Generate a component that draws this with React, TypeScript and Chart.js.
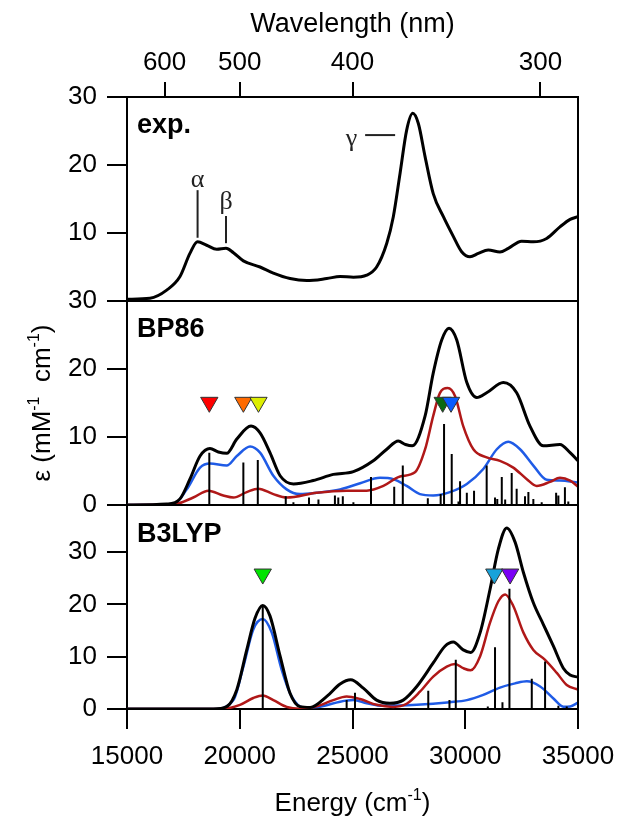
import React, { useEffect, useRef } from 'react';
import { Chart, registerables } from 'chart.js';

Chart.register(...registerables);

// ---- axes ----
const E_MIN = 15000;
const E_MAX = 35000;
const energyStep = 5000;
const wavelengthTicks = [600, 500, 400, 300];
const epsStep = 10;
const expMax = 30;
const bp86Max = 30;
const b3lypMax = 39;

// ---- experimental spectrum ----
const expE = [15000, 16020, 16760, 17350, 17790, 18130, 18530, 18980, 19390, 19720, 20160, 20900, 21490, 22230, 22970, 23860, 24450, 25040, 25630, 26070, 26520, 26810, 27110, 27400, 27670, 27920, 28220, 28580, 29030, 29470, 29840, 30210, 30580, 31020, 31540, 31910, 32500, 33020, 33610, 34200, 34650, 35000];
const expEps = [0.25, 0.4, 1.6, 3.6, 7.0, 8.7, 8.2, 7.6, 7.75, 7.1, 5.9, 5.0, 4.1, 3.3, 3.0, 3.3, 3.6, 3.5, 3.8, 5.0, 8.5, 12.4, 18.8, 25.1, 27.6, 26.1, 21.2, 15.8, 12.4, 9.5, 7.25, 6.5, 7.0, 7.5, 7.2, 7.75, 8.8, 8.7, 9.2, 10.9, 12.0, 12.4];

// band markers (energy, line bottom, line top) and gamma bar
const bandNames = ['α', 'β'];
const bandE = [18130, 19390];
const bandLow = [9.3, 8.5];
const bandHigh = [16.3, 12.5];
const gammaName = 'γ';
const gammaE = [25560, 26890];
const gammaEps = 24.4;

// ---- BP86 ----
const bpTotE = [15000, 16760, 17350, 17790, 18240, 18680, 19050, 19420, 19870, 20500, 20900, 21340, 21790, 22380, 23260, 24150, 25040, 25920, 26520, 27030, 27350, 27650, 28220, 28580, 28960, 29280, 29620, 30070, 30510, 30950, 31690, 32280, 32870, 33460, 34200, 34650, 35000];
const bpTotEps = [0, 0.15, 0.9, 3.8, 7.2, 8.3, 7.8, 7.6, 9.7, 11.6, 10.6, 7.7, 4.3, 3.1, 3.6, 4.5, 4.9, 6.5, 8.2, 9.4, 8.9, 8.7, 13.1, 19.4, 24.3, 26.0, 24.3, 18.0, 15.8, 16.5, 18.0, 16.5, 11.6, 8.7, 8.9, 7.7, 6.5];

const bpBlueE = [15000, 17060, 17650, 18240, 18680, 19420, 19870, 20460, 20900, 21490, 22080, 22670, 23410, 24450, 25340, 26220, 26810, 27400, 27990, 28580, 29320, 30070, 30800, 31400, 31910, 32430, 33020, 33610, 34200, 35000];
const bpBlueEps = [0, 0.1, 2.3, 5.5, 6.1, 5.8, 7.2, 8.6, 7.7, 4.3, 2.3, 1.6, 1.8, 2.3, 3.2, 4.0, 3.8, 2.8, 1.6, 1.4, 1.9, 3.1, 5.3, 8.2, 9.3, 8.2, 5.8, 3.7, 3.6, 3.3];

const bpRedE = [15000, 17060, 17940, 18610, 19270, 19720, 20310, 20820, 21490, 22080, 23410, 24740, 25630, 26370, 27110, 27770, 28220, 28580, 28880, 29220, 29550, 29910, 30360, 30950, 31540, 32130, 32730, 33170, 33760, 34200, 34650, 35000];
const bpRedEps = [0, 0.1, 1.1, 2.1, 1.4, 1.1, 1.9, 2.4, 1.6, 1.1, 1.8, 2.1, 2.1, 2.8, 4.2, 4.8, 8.2, 13.1, 16.5, 17.2, 16.0, 11.6, 8.2, 7.0, 6.5, 5.5, 3.8, 2.8, 3.4, 4.0, 3.6, 2.7];

const bpStickE = [18650, 20160, 20800, 22040, 22380, 23070, 23490, 24220, 24370, 24570, 25040, 25820, 26850, 27230, 28340, 28910, 29060, 29400, 29700, 29770, 30070, 30390, 30950, 31320, 31420, 31620, 31770, 32060, 32280, 32650, 32800, 33020, 33390, 34030, 34130, 34420, 34570];
const bpStickH = [7.7, 6.25, 6.6, 1.3, 0.4, 1.1, 0.8, 1.4, 1.1, 1.3, 0.4, 4.1, 2.7, 5.8, 1.0, 1.6, 11.9, 7.5, 0.5, 3.5, 1.8, 2.1, 5.8, 1.1, 0.9, 4.1, 0.8, 4.7, 2.4, 1.3, 1.9, 0.9, 0.4, 1.8, 1.4, 2.6, 0.5];

const bpMarkE = [18650, 20160, 20830, 29000, 29370];
const bpMarkEps = 15.1;
const bpMarkColors = ['#FF0000', '#FF6A00', '#DDEE00', '#0B6A12', '#0A5CFF'];

// ---- B3LYP ----
const b3TotE = [15000, 18830, 19420, 19870, 20310, 20680, 21020, 21340, 21790, 22230, 22670, 23120, 23860, 24450, 24920, 25480, 26070, 26660, 27250, 27850, 28580, 29100, 29470, 29910, 30240, 30660, 31100, 31470, 31840, 32210, 32580, 33020, 33460, 33910, 34350, 34650, 35000];
const b3TotEps = [0, 0, 0.45, 3.7, 11.3, 17.4, 19.8, 17.8, 10.1, 3.0, 0.45, 0.3, 2.4, 4.8, 5.6, 4.0, 1.7, 1.1, 1.7, 4.3, 8.8, 12.0, 12.8, 11.3, 10.8, 14.6, 22.9, 30.6, 34.6, 31.9, 26.1, 20.3, 16.2, 12.0, 7.8, 6.5, 6.1];

const b3BlueE = [15000, 18830, 19720, 20160, 20600, 21020, 21420, 21860, 22300, 22820, 23560, 24450, 25040, 25630, 26370, 27850, 29320, 30070, 30800, 31540, 32210, 32730, 33320, 33910, 34350, 34650, 35000];
const b3BlueEps = [0, 0, 1.7, 8.1, 15.2, 17.2, 14.6, 7.5, 2.4, 0.3, 0.45, 1.4, 1.7, 1.1, 0.6, 0.8, 1.3, 1.7, 2.7, 4.1, 4.9, 5.3, 4.3, 2.0, 0.45, 0.5, 1.2];

const b3RedE = [15000, 19200, 20010, 20600, 21020, 21490, 22080, 22670, 23410, 24150, 24740, 25340, 26070, 26810, 27400, 27990, 28580, 29180, 29550, 29910, 30240, 30660, 31100, 31470, 31770, 32130, 32580, 33020, 33540, 34060, 34500, 35000];
const b3RedEps = [0, 0, 0.8, 2.1, 2.6, 1.7, 0.4, 0.05, 0.5, 1.7, 2.4, 1.9, 0.8, 0.4, 1.0, 3.3, 6.2, 8.1, 8.6, 7.8, 7.4, 10.1, 16.5, 20.6, 21.9, 19.7, 14.6, 11.3, 9.4, 6.9, 4.6, 3.7];

const b3StickE = [21020, 24740, 25110, 28360, 29300, 29580, 31000, 31320, 31650, 31960, 32950, 33540, 34130, 34500];
const b3StickH = [19.8, 1.7, 3.1, 3.5, 1.7, 9.4, 0.5, 11.8, 1.3, 23.0, 5.8, 9.1, 0.6, 0.5];

const b3MarkE = [21020, 31290, 31990];
const b3MarkEps = 25.8;
const b3MarkColors = ['#00E400', '#18A2DA', '#7A00F5'];

const panelNames = ['exp.', 'BP86', 'B3LYP'];

// ---- helpers ----
const FONT = '"Liberation Sans", Arial, Helvetica, sans-serif';
const SERIF = '"Liberation Serif", "Times New Roman", serif';
const RED = '#B01818';
const BLUE = '#1F5BE6';

const pts = (xs: number[], ys: number[]) => xs.map((x, i) => ({ x, y: ys[i] }));
const stickPts = (xs: number[], hs: number[]) => {
  const out: any[] = [];
  xs.forEach((x, i) => {
    out.push({ x, y: 0 }, { x, y: hs[i] }, { x, y: null });
  });
  return out;
};

const curve = (data: any[], color: string, width: number, axis: string, order: number) => ({
  type: 'line',
  data,
  yAxisID: axis,
  borderColor: color,
  borderWidth: width,
  pointRadius: 0,
  fill: false,
  cubicInterpolationMode: 'monotone',
  order,
});

const sticks = (data: any[], axis: string) => ({
  type: 'line',
  data,
  yAxisID: axis,
  borderColor: '#000',
  borderWidth: 2,
  pointRadius: 0,
  tension: 0,
  spanGaps: false,
  order: 2,
});

const markers = (xs: number[], y: number, colors: string[], axis: string) => ({
  type: 'line',
  data: xs.map((x) => ({ x, y })),
  yAxisID: axis,
  showLine: false,
  pointStyle: 'triangle',
  pointRotation: 180,
  pointRadius: 10,
  pointBackgroundColor: colors,
  pointBorderColor: '#333',
  pointBorderWidth: 1,
  order: 0,
});

type Part = { t: string; sup?: boolean };
function drawRich(ctx: CanvasRenderingContext2D, parts: Part[], x: number, y: number, size: number, supSize: number, rise: number) {
  const main = `${size}px ${FONT}`;
  const sup = `${supSize}px ${FONT}`;
  let w = 0;
  parts.forEach((p) => {
    ctx.font = p.sup ? sup : main;
    w += ctx.measureText(p.t).width;
  });
  let cx = x - w / 2;
  ctx.textAlign = 'left';
  ctx.textBaseline = 'alphabetic';
  parts.forEach((p) => {
    ctx.font = p.sup ? sup : main;
    ctx.fillText(p.t, cx, p.sup ? y - rise : y);
    cx += ctx.measureText(p.t).width;
  });
}

const decor = {
  id: 'decor',
  afterDatasetsDraw(chart: any) {
    const ctx: CanvasRenderingContext2D = chart.ctx;
    const { left, right, top, bottom } = chart.chartArea;
    const xs = chart.scales.x;
    const yE = chart.scales.yExp;
    const yB = chart.scales.yBP;
    const y3 = chart.scales.yB3;
    ctx.save();
    ctx.strokeStyle = '#000';
    ctx.lineWidth = 2;
    ctx.beginPath();
    ctx.moveTo(right, top - 1);
    ctx.lineTo(right, bottom + 1);
    ctx.moveTo(left, yB.top);
    ctx.lineTo(right, yB.top);
    ctx.moveTo(left, y3.top);
    ctx.lineTo(right, y3.top);
    ctx.stroke();

    // panel names
    ctx.fillStyle = '#000';
    ctx.font = `bold 27px ${FONT}`;
    ctx.textAlign = 'left';
    ctx.textBaseline = 'alphabetic';
    ctx.fillText(panelNames[0], left + 10, yE.top + 36);
    ctx.fillText(panelNames[1], left + 10, yB.top + 36);
    ctx.fillText(panelNames[2], left + 10, y3.top + 37);

    // greek band labels
    ctx.fillStyle = '#222';
    ctx.font = `26px ${SERIF}`;
    ctx.textAlign = 'center';
    const lift = [3, 7];
    bandNames.forEach((n, i) => {
      ctx.fillText(n, xs.getPixelForValue(bandE[i]), yE.getPixelForValue(bandHigh[i]) - lift[i]);
    });
    ctx.textAlign = 'right';
    ctx.fillText(gammaName, xs.getPixelForValue(gammaE[0]) - 8, yE.getPixelForValue(gammaEps) + 11);

    // axis titles with superscripts
    ctx.fillStyle = '#000';
    drawRich(ctx, [{ t: 'Energy (cm' }, { t: '-1', sup: true }, { t: ')' }], (left + right) / 2, 811, 26, 16, 11);
    ctx.translate(50, (yB.top + yB.bottom) / 2);
    ctx.rotate(-Math.PI / 2);
    drawRich(ctx, [{ t: 'ε (mM' }, { t: '-1', sup: true }, { t: '  cm' }, { t: '-1', sup: true }, { t: ')' }], 0, 0, 26, 16, 11);
    ctx.restore();
  },
};

const yAxis = (max: number, weight: number, hideZero: boolean) => ({
  type: 'linear',
  position: 'left',
  stack: 'panels',
  stackWeight: 1,
  weight,
  min: 0,
  max,
  afterFit: (s: any) => {
    s.width = 127;
    s.paddingTop = 0;
    s.paddingBottom = 0;
  },
  ticks: {
    stepSize: epsStep,
    includeBounds: false,
    padding: 10,
    color: '#000',
    font: { family: FONT, size: 26 },
    callback: (v: number) => (hideZero && v === 0 ? '' : String(v)),
  },
  grid: { drawOnChartArea: false, tickLength: 20, color: '#000', lineWidth: 2 },
  border: { display: true, color: '#000', width: 2 },
});

export default function App() {
  const ref = useRef<HTMLCanvasElement | null>(null);
  useEffect(() => {
    if (!ref.current) return;
    const chart = new Chart(ref.current, {
      type: 'line',
      data: {
        datasets: [
          // experimental
          curve(pts(expE, expEps), '#000', 3, 'yExp', 1),
          ...bandE.map((e, i) => ({
            type: 'line',
            data: [{ x: e, y: bandLow[i] }, { x: e, y: bandHigh[i] }],
            yAxisID: 'yExp',
            borderColor: '#222',
            borderWidth: 2,
            pointRadius: 0,
            order: 1,
          })),
          {
            type: 'line',
            data: gammaE.map((e) => ({ x: e, y: gammaEps })),
            yAxisID: 'yExp',
            borderColor: '#222',
            borderWidth: 2,
            pointRadius: 0,
            order: 1,
          },
          // BP86
          markers(bpMarkE, bpMarkEps, bpMarkColors, 'yBP'),
          curve(pts(bpTotE, bpTotEps), '#000', 3, 'yBP', 1),
          sticks(stickPts(bpStickE, bpStickH), 'yBP'),
          curve(pts(bpRedE, bpRedEps), RED, 2.5, 'yBP', 3),
          curve(pts(bpBlueE, bpBlueEps), BLUE, 2.5, 'yBP', 4),
          // B3LYP
          markers(b3MarkE, b3MarkEps, b3MarkColors, 'yB3'),
          curve(pts(b3TotE, b3TotEps), '#000', 3, 'yB3', 1),
          sticks(stickPts(b3StickE, b3StickH), 'yB3'),
          curve(pts(b3RedE, b3RedEps), RED, 2.5, 'yB3', 3),
          curve(pts(b3BlueE, b3BlueEps), BLUE, 2.5, 'yB3', 4),
        ] as any,
      },
      options: {
        responsive: false,
        animation: false,
        events: [],
        layout: { padding: { left: 0, top: 0, right: 41, bottom: 0 } },
        plugins: { legend: { display: false }, tooltip: { enabled: false }, title: { display: false } },
        scales: {
          x: {
            type: 'linear',
            position: 'bottom',
            min: E_MIN,
            max: E_MAX,
            afterFit: (s: any) => {
              s.height = 112;
              s.paddingLeft = 0;
              s.paddingRight = 0;
            },
            ticks: {
              stepSize: energyStep,
              padding: 12,
              maxRotation: 0,
              color: '#000',
              font: { family: FONT, size: 26 },
              callback: (v: number) => String(v),
            },
            grid: { drawOnChartArea: false, tickLength: 20, color: '#000', lineWidth: 2 },
            border: { display: true, color: '#000', width: 2 },
          },
          xTop: {
            type: 'linear',
            position: 'top',
            min: E_MIN,
            max: E_MAX,
            afterFit: (s: any) => {
              s.height = 97;
              s.paddingLeft = 0;
              s.paddingRight = 0;
            },
            afterBuildTicks: (s: any) => {
              s.ticks = wavelengthTicks.map((w) => ({ value: 1e7 / w }));
            },
            ticks: {
              padding: 4,
              autoSkip: false,
              maxRotation: 0,
              color: '#000',
              font: { family: FONT, size: 26 },
              callback: (v: number) => String(Math.round(1e7 / v)),
            },
            title: {
              display: true,
              text: 'Wavelength (nm)',
              color: '#000',
              font: { family: FONT, size: 27 },
              padding: { top: 8, bottom: 0 },
            },
            grid: { drawOnChartArea: false, tickLength: 15, color: '#000', lineWidth: 2 },
            border: { display: true, color: '#000', width: 2 },
          },
          yB3: yAxis(b3lypMax, 1, false),
          yBP: yAxis(bp86Max, 2, false),
          yExp: yAxis(expMax, 3, true),
        } as any,
      },
      plugins: [decor],
    } as any);
    return () => chart.destroy();
  }, []);

  return (
    <div style={{ position: 'absolute', left: 0, top: 0, width: 619, height: 821, background: '#fff' }}>
      <canvas ref={ref} width={619} height={821} style={{ display: 'block' }} />
    </div>
  );
}
